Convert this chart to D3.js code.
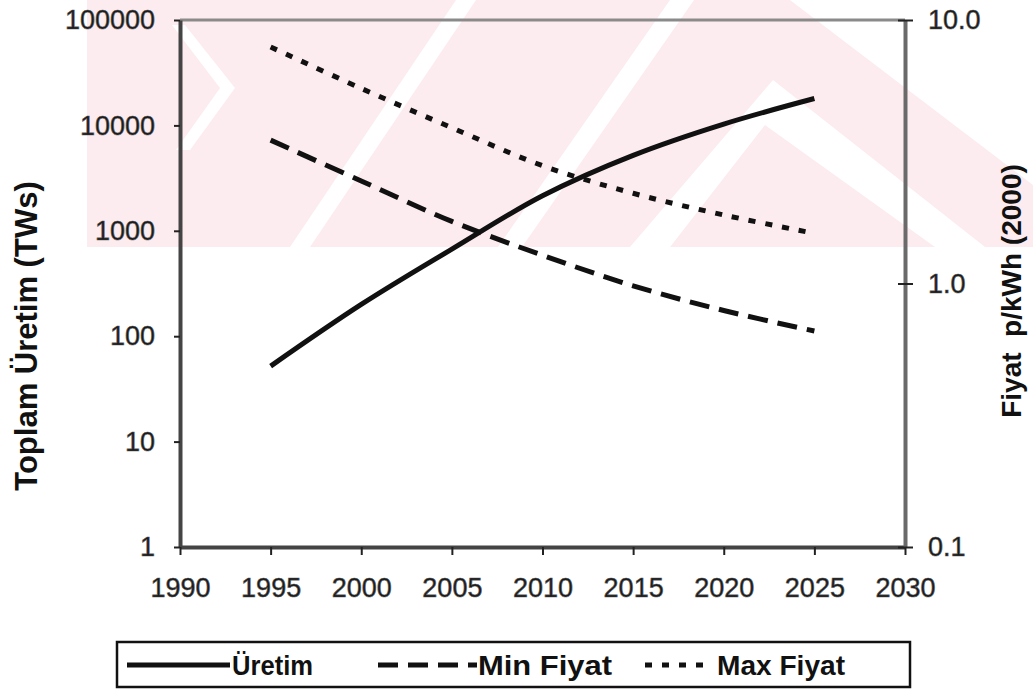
<!DOCTYPE html>
<html>
<head>
<meta charset="utf-8">
<script src="https://cdn.jsdelivr.net/npm/d3@7"></script>
<style>
  html, body { margin: 0; padding: 0; background: #fff; }
  svg { display: block; }
  text { font-family: "Liberation Sans", Arial, sans-serif; }
</style>
</head>
<body>
<svg id="chart" width="1033" height="690"></svg>
<script>
// ---- Data ----
const years = [1995, 2000, 2005, 2010, 2015, 2020, 2025];
const uretim = [52, 200, 670, 2150, 5200, 10300, 18000];      // TWs (left axis)
const minFiyat = [3.5, 2.45, 1.72, 1.28, 0.98, 0.79, 0.66];   // p/kWh (right axis)
const maxFiyat = [7.9, 5.5, 3.9, 2.8, 2.2, 1.82, 1.55];       // p/kWh (right axis)
const xTicks = [1990, 1995, 2000, 2005, 2010, 2015, 2020, 2025, 2030];
const leftTicks = [1, 10, 100, 1000, 10000, 100000];
const rightTicks = [0.1, 1, 10];
const seriesNames = ["Üretim", "Min Fiyat", "Max Fiyat"];
const leftTitle = "Toplam Üretim (TWs)";
const rightTitle = "Fiyat  p/kWh (2000)";

const svg = d3.select("#chart");
const L = 180, R = 905, T = 20, B = 547;

// ---- watermark (light pink background logo) ----
const wm = svg.append("g");
wm.append("rect").attr("x", 87).attr("y", 0).attr("width", 946).attr("height", 247).attr("fill", "#fdecef");
const whitePolys = [
  [[0,0],[87,0],[87,247],[0,247]],
  [[290,247],[310,247],[476,0],[456,0]],
  [[498,247],[522,247],[694,0],[670,0]],
  [[790,0],[1033,0],[1033,185]],
  [[630,247],[773,80],[985,247],[935,247],[765,125],[670,247]],
  [[185,25],[235,88],[190,150],[176,150],[220,88],[172,25]]
];
whitePolys.forEach(p => wm.append("polygon").attr("points", p.map(d => d.join(",")).join(" ")).attr("fill", "#fff"));

// ---- scales ----
const x = d3.scaleLinear().domain([1990, 2030]).range([L, R]);
const yL = d3.scaleLog().domain([1, 100000]).range([B, T]);
const yR = d3.scaleLog().domain([0.1, 10]).range([B, T]);

// ---- series lines ----
const lineL = d3.line().x((d, i) => x(years[i])).y(d => yL(d)).curve(d3.curveCatmullRom.alpha(0.5));
const lineR = d3.line().x((d, i) => x(years[i])).y(d => yR(d)).curve(d3.curveCatmullRom.alpha(0.5));

svg.append("path").attr("d", lineR(maxFiyat)).attr("fill", "none").attr("stroke", "#111")
  .attr("stroke-width", 5).attr("stroke-dasharray", "7,10");
svg.append("path").attr("d", lineR(minFiyat)).attr("fill", "none").attr("stroke", "#111")
  .attr("stroke-width", 5).attr("stroke-dasharray", "20,10");
svg.append("path").attr("d", lineL(uretim)).attr("fill", "none").attr("stroke", "#111")
  .attr("stroke-width", 5);

// ---- frame ----
svg.append("line").attr("x1", L).attr("x2", R).attr("y1", T).attr("y2", T)
  .attr("stroke", "#8a8a8a").attr("stroke-width", 3);

// ---- axes ----
const fontTick = 27;
const gL = svg.append("g").attr("transform", `translate(${L},0)`)
  .call(d3.axisLeft(yL).tickValues(leftTicks).tickFormat(d3.format("d")).tickSizeInner(6).tickSizeOuter(0).tickPadding(19));
const gB = svg.append("g").attr("transform", `translate(0,${B})`)
  .call(d3.axisBottom(x).tickValues(xTicks).tickFormat(d3.format("d")).tickSizeInner(8).tickSizeOuter(0).tickPadding(23));
const gR = svg.append("g").attr("transform", `translate(${R},0)`)
  .call(d3.axisRight(yR).tickValues(rightTicks).tickFormat(d3.format(".1f")).tickSizeInner(8).tickSizeOuter(0).tickPadding(15));

[gL, gB, gR].forEach(g => {
  g.select(".domain").attr("stroke", "#444").attr("stroke-width", 4);
  g.selectAll(".tick line").attr("stroke", "#222").attr("stroke-width", 2);
  g.selectAll(".tick text").attr("font-size", fontTick).attr("fill", "#1a1a1a")
    .attr("stroke", "#555").attr("stroke-width", 0.6)
    .style("font-family", '"Liberation Sans", Arial, sans-serif');
});
gR.select(".domain").attr("stroke", "#6a6a6a");
gR.selectAll(".tick line").attr("x1", -7);
gB.selectAll(".tick line").attr("y1", 0);

// ---- axis titles ----
svg.append("text").attr("transform", `translate(37,336) rotate(-90)`)
  .attr("text-anchor", "middle").attr("font-size", 31).attr("font-weight", "bold").attr("fill", "#111")
  .text(leftTitle);
svg.append("text").attr("transform", `translate(1021,291) rotate(-90)`)
  .attr("text-anchor", "middle").attr("font-size", 28).attr("font-weight", "bold").attr("fill", "#111")
  .attr("xml:space", "preserve").style("white-space", "pre")
  .text(rightTitle);

// ---- legend ----
const lg = svg.append("g");
lg.append("rect").attr("x", 117).attr("y", 642).attr("width", 793).attr("height", 45)
  .attr("fill", "#fff").attr("stroke", "#111").attr("stroke-width", 2.5);
const ly = 665;
const legendItems = [
  { x1: 127, x2: 230, dash: null, tx: 232, tw: 81 },
  { x1: 378, x2: 477, dash: "20,10", tx: 478, tw: 134 },
  { x1: 645, x2: 708, dash: "7,10", tx: 717, tw: 128 }
];
legendItems.forEach((it, i) => {
  const l = lg.append("line").attr("x1", it.x1).attr("x2", it.x2).attr("y1", ly).attr("y2", ly)
    .attr("stroke", "#111").attr("stroke-width", 5);
  if (it.dash) l.attr("stroke-dasharray", it.dash);
  lg.append("text").attr("x", it.tx).attr("y", ly + 10).attr("font-size", 27).attr("font-weight", "bold")
    .attr("fill", "#111").attr("textLength", it.tw).attr("lengthAdjust", "spacingAndGlyphs")
    .text(seriesNames[i]);
});
</script>
</body>
</html>
